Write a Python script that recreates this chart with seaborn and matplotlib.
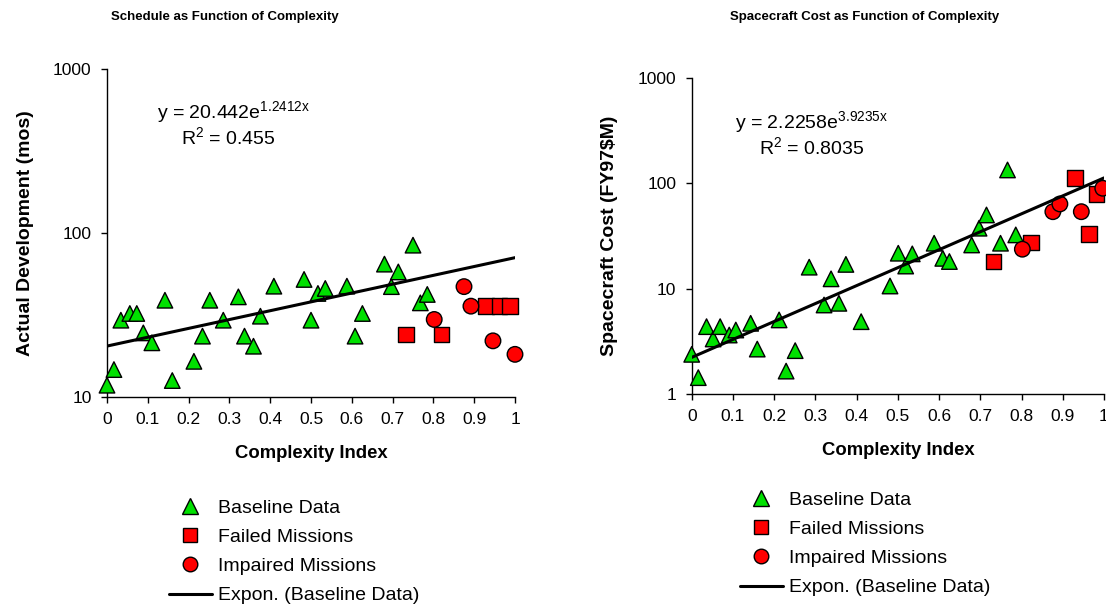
import pandas as pd
import matplotlib
matplotlib.use('Agg')
import matplotlib.pyplot as plt
from matplotlib.ticker import FixedLocator, FuncFormatter, NullLocator
import seaborn as sns
import numpy as np

# ---- schedule chart (left) ----
sched_base_x = [0.0, 0.017, 0.034, 0.056, 0.073, 0.089, 0.11, 0.142, 0.16, 0.213,
                0.234, 0.252, 0.285, 0.322, 0.337, 0.359, 0.376, 0.409, 0.483, 0.5,
                0.517, 0.535, 0.588, 0.608, 0.626, 0.68, 0.697, 0.714, 0.75, 0.768, 0.785]
sched_base_y = [11.8, 14.7, 29.4, 32.3, 32.3, 24.6, 21.4, 38.9, 12.6, 16.5,
                23.5, 38.9, 29.4, 40.8, 23.5, 20.4, 31.1, 47.4, 52.1, 29.4,
                42.8, 45.9, 47.4, 23.5, 32.3, 64.6, 47.1, 57.9, 84.3, 37.5, 42.2]
sched_fail_x = [0.733, 0.82, 0.929, 0.962, 0.988]
sched_fail_y = [24.0, 24.0, 35.8, 35.8, 35.8]
sched_imp_x = [0.802, 0.875, 0.892, 0.946, 1.0]
sched_imp_y = [29.7, 47.1, 35.8, 22.0, 18.2]
sched_fit = (20.442, 1.2412, 0.455)

# ---- spacecraft cost chart (right) ----
cost_base_x = [0.0, 0.016, 0.036, 0.052, 0.069, 0.091, 0.107, 0.143, 0.159, 0.212,
               0.229, 0.251, 0.285, 0.321, 0.338, 0.357, 0.374, 0.411, 0.481, 0.501,
               0.519, 0.535, 0.588, 0.609, 0.625, 0.679, 0.697, 0.715, 0.749, 0.766, 0.786]
cost_base_y = [2.38, 1.43, 4.36, 3.33, 4.36, 3.63, 4.05, 4.69, 2.67, 5.05,
               1.65, 2.58, 16.0, 7.0, 12.4, 7.26, 17.0, 4.86, 10.6, 21.7,
               16.4, 21.4, 27.0, 19.4, 18.1, 26.0, 37.5, 50.1, 27.0, 134.0, 32.4]
cost_fail_x = [0.732, 0.823, 0.930, 0.964, 0.982]
cost_fail_y = [18.1, 27.3, 112.0, 33.0, 79.4]
cost_imp_x = [0.802, 0.876, 0.893, 0.945, 0.997]
cost_imp_y = [23.7, 53.8, 63.7, 53.8, 89.8]
cost_fit = (2.2258, 3.9235, 0.8035)

groups = ['Baseline Data', 'Failed Missions', 'Impaired Missions']

sns.set_style('white')
plt.rcParams['font.family'] = ['Liberation Sans', 'DejaVu Sans']
plt.rcParams['mathtext.fontset'] = 'custom'
plt.rcParams['mathtext.rm'] = 'Liberation Sans'
plt.rcParams['mathtext.it'] = 'Liberation Sans'
for k in ['text.color', 'axes.labelcolor', 'xtick.color', 'ytick.color']:
    plt.rcParams[k] = 'black'

W, H = 1106, 605
fig = plt.figure(figsize=(W / 100, H / 100), dpi=100)


def px(x0, y0, x1, y1):
    # pixel box -> figure fraction [left, bottom, width, height]
    return [x0 / W, 1 - y1 / H, (x1 - x0) / W, (y1 - y0) / H]


def draw(ax, bx, by, fx, fy, ix, iy, fit, ylim, yticks, ylabel, eq_pos, leg_pos):
    df = pd.DataFrame({
        'x': bx + fx + ix,
        'y': by + fy + iy,
        'Group': [groups[0]] * len(bx) + [groups[1]] * len(fx) + [groups[2]] * len(ix)
    })
    sns.scatterplot(data=df, x='x', y='y', hue='Group', style='Group', ax=ax,
                    palette={groups[0]: '#00e000', groups[1]: '#ff0000', groups[2]: '#ff0000'},
                    markers={groups[0]: '^', groups[1]: 's', groups[2]: 'o'},
                    s=125, edgecolor='black', linewidth=1.0, zorder=3, clip_on=False,
                    legend=False)
    a, b, r2 = fit
    xs = np.linspace(0, 1, 60)
    ax.plot(xs, a * np.exp(b * xs), color='black', lw=2.2, zorder=4)

    ax.set_yscale('log')
    ax.set_xlim(0, 1)
    ax.set_ylim(*ylim)
    ax.xaxis.set_major_locator(FixedLocator(np.arange(0, 1.01, 0.1)))
    ax.xaxis.set_major_formatter(FuncFormatter(lambda v, p: '%g' % round(v, 1)))
    ax.yaxis.set_major_locator(FixedLocator(yticks))
    ax.yaxis.set_minor_locator(NullLocator())
    ax.yaxis.set_major_formatter(FuncFormatter(lambda v, p: '%g' % v))
    for sp in ['top', 'right']:
        ax.spines[sp].set_visible(False)
    for sp in ['left', 'bottom']:
        ax.spines[sp].set_color('black')
        ax.spines[sp].set_linewidth(1.0)
    ax.tick_params(axis='both', direction='out', length=4, width=1, color='black',
                   labelsize=12.5, left=True, bottom=True, pad=7)
    ax.set_xlabel('Complexity Index', fontsize=13.3, fontweight='bold', labelpad=13)
    ax.set_ylabel(ylabel, fontsize=14, fontweight='bold', labelpad=14)

    ex, ey = eq_pos
    ax.text(ex, ey, r'y = %se$^{%sx}$' % (a, b), transform=fig.transFigure,
            fontsize=14, ha='left', va='center')
    ax.text(ex + 0.022, ey - 0.042, r'R$^{2}$ = %s' % r2, transform=fig.transFigure,
            fontsize=14, ha='left', va='center')

    handles = [
        plt.Line2D([], [], ls='none', marker='^', ms=11, mfc='#00e000', mec='black', mew=1),
        plt.Line2D([], [], ls='none', marker='s', ms=10, mfc='#ff0000', mec='black', mew=1),
        plt.Line2D([], [], ls='none', marker='o', ms=10.5, mfc='#ff0000', mec='black', mew=1),
        plt.Line2D([], [], color='black', lw=2.2),
    ]
    ax.legend(handles, groups + ['Expon. (Baseline Data)'], loc='upper left',
              bbox_to_anchor=leg_pos, bbox_transform=fig.transFigure, frameon=False,
              fontsize=14, handlelength=2.2, handletextpad=0.3, labelspacing=0.6,
              borderaxespad=0, borderpad=0)


ax1 = fig.add_axes(px(107, 69, 515, 397))
draw(ax1, sched_base_x, sched_base_y, sched_fail_x, sched_fail_y, sched_imp_x, sched_imp_y,
     sched_fit, (10, 1000), [10, 100, 1000], 'Actual Development (mos)',
     (157 / W, 1 - 112 / H), (169 / W, 1 - 499 / H))

ax2 = fig.add_axes(px(691.7, 78, 1104, 394))
draw(ax2, cost_base_x, cost_base_y, cost_fail_x, cost_fail_y, cost_imp_x, cost_imp_y,
     cost_fit, (1, 1000), [1, 10, 100, 1000], 'Spacecraft Cost (FY97\\$M)',
     (735 / W, 1 - 122 / H), (740 / W, 1 - 491 / H))

fig.text(225 / W, 1 - 17 / H, 'Schedule as Function of Complexity', fontsize=9.5,
         fontweight='bold', ha='center', va='center')
fig.text(865 / W, 1 - 17 / H, 'Spacecraft Cost as Function of Complexity', fontsize=9.5,
         fontweight='bold', ha='center', va='center')

fig.savefig('out.png', dpi=100)
